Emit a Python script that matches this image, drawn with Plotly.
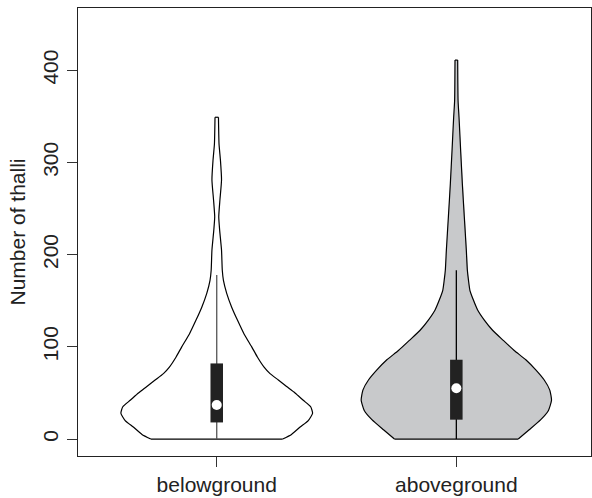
import plotly.graph_objects as go

# ---- data ----
categories = ["belowground", "aboveground"]
positions = [1, 2]

# density profiles: y value and relative half-width (max = 1)
below_y = [0, 5, 13, 20, 28, 35, 42, 50, 57, 64, 71, 78, 89, 100, 114, 129, 143, 158, 172, 183,
           205, 226, 241, 259, 281, 302, 320, 349]
below_w = [0.688, 0.78, 0.87, 0.955, 1.0, 0.98, 0.903, 0.817, 0.729, 0.643, 0.556, 0.494, 0.424,
           0.365, 0.285, 0.216, 0.156, 0.104, 0.07, 0.058, 0.05, 0.031, 0.021, 0.033, 0.05, 0.039,
           0.024, 0.018]
above_y = [0, 10, 21, 31, 42, 53, 64, 75, 86, 96, 107, 118, 129, 140, 151, 161, 172, 183, 205,
           241, 277, 313, 349, 367, 411]
above_w = [0.646, 0.76, 0.881, 0.961, 0.993, 0.975, 0.917, 0.829, 0.725, 0.604, 0.49, 0.378,
           0.292, 0.222, 0.177, 0.142, 0.127, 0.115, 0.104, 0.083, 0.0625, 0.045, 0.028, 0.018, 0.014]

profiles_y = [below_y, above_y]
profiles_w = [below_w, above_w]

q1 = [18, 21]
medians = [37, 55]
q3 = [82, 86]
whisk_lo = [0, 0]
whisk_hi = [178, 183]

y_ticks = [0, 100, 200, 300, 400]

# ---- styles ----
fills = ["white", "#c8c9cb"]
whisker_colors = ["#555555", "black"]
max_half_width = 0.4
font_family = "Liberation Sans, Arial, Helvetica, sans-serif"
FS = 21
outline = dict(color="black", width=1.2)

fig = go.Figure()
for i in range(2):
    ys = profiles_y[i]
    ws = profiles_w[i]
    p = positions[i]
    left = [p - w * max_half_width for w in ws]
    right = [p + w * max_half_width for w in ws]
    # fill (no outline)
    xs = left + right[::-1] + [left[0]]
    yy = ys + ys[::-1] + [ys[0]]
    fig.add_trace(go.Scatter(x=xs, y=yy, mode="lines", fill="toself", fillcolor=fills[i],
                             line=dict(width=0, color=fills[i]),
                             showlegend=False, hoverinfo="skip"))
    # outline: sides smooth, bottom and top straight
    for side in (left, right):
        fig.add_trace(go.Scatter(x=side, y=ys, mode="lines",
                                 line=dict(outline, shape="spline", smoothing=0.5),
                                 showlegend=False, hoverinfo="skip"))
    fig.add_trace(go.Scatter(x=[left[0], right[0]], y=[ys[0], ys[0]], mode="lines",
                             line=outline, showlegend=False, hoverinfo="skip"))
    fig.add_trace(go.Scatter(x=[left[-1], right[-1]], y=[ys[-1], ys[-1]], mode="lines",
                             line=outline, showlegend=False, hoverinfo="skip"))
    fig.add_trace(go.Scatter(x=[p, p], y=[whisk_lo[i], whisk_hi[i]], mode="lines",
                             line=dict(color=whisker_colors[i], width=1.3),
                             showlegend=False, hoverinfo="skip"))
    fig.add_trace(go.Scatter(x=[p, p], y=[q1[i], q3[i]], mode="lines",
                             line=dict(color="#222222", width=12.5),
                             showlegend=False, hoverinfo="skip"))
    fig.add_trace(go.Scatter(x=[p], y=[medians[i]], mode="markers",
                             marker=dict(color="white", size=10, line=dict(width=0)),
                             showlegend=False, hoverinfo="skip"))

fig.update_layout(
    width=592, height=498,
    margin=dict(l=78, r=1, t=8, b=42),
    paper_bgcolor="white", plot_bgcolor="white",
    font=dict(family=font_family, size=FS, color="#222222"),
)
fig.update_xaxes(range=[0.421, 2.562], tickvals=positions, ticktext=categories,
                 ticks="outside", ticklen=10, tickwidth=1.2, tickcolor="#333333",
                 showline=True, mirror=True, linecolor="#222222", linewidth=1.3,
                 showgrid=False, zeroline=False, tickfont=dict(size=FS))
fig.update_yaxes(range=[-18.4, 467.5], tickvals=y_ticks, ticktext=[str(v) for v in y_ticks],
                 tickangle=-90, ticks="outside", ticklen=10, tickwidth=1.2, tickcolor="#333333",
                 showline=True, mirror=True, linecolor="#222222", linewidth=1.3,
                 showgrid=False, zeroline=False, tickfont=dict(size=FS),
                 title=dict(text="Number of thalli", font=dict(size=FS), standoff=8))

fig.write_html("out.html")
